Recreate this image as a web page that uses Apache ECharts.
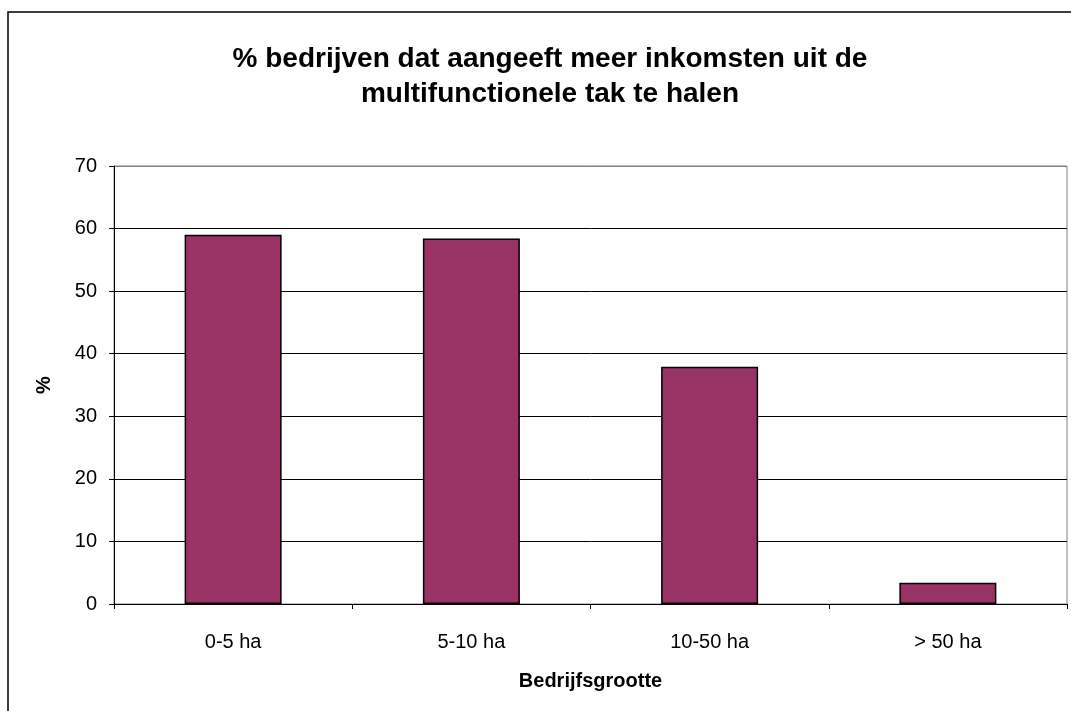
<!DOCTYPE html>
<html>
<head>
<meta charset="utf-8">
<script src="https://cdn.jsdelivr.net/npm/echarts@6/dist/echarts.min.js"></script>
<style>
  html, body { margin: 0; padding: 0; background: #fff; }
  #chart { width: 1071px; height: 711px; }
</style>
</head>
<body>
<div id="chart"></div>
<script>
var categories = ['0-5 ha', '5-10 ha', '10-50 ha', '> 50 ha'];
var percentages = [59, 58.4, 37.9, 3.4];
var yTicks = [0, 10, 20, 30, 40, 50, 60, 70];

var myChart = echarts.init(document.getElementById('chart'));

var font = '"Liberation Sans", Arial, sans-serif';

var option = {
    backgroundColor: '#fff',
    animation: false,
    title: {
        text: '% bedrijven dat aangeeft meer inkomsten uit de\nmultifunctionele tak te halen',
        left: 545,
        top: 37,
        textAlign: 'center',
        textStyle: {
            fontFamily: font,
            fontSize: 28,
            fontWeight: 'bold',
            color: '#000',
            lineHeight: 35
        }
    },
    graphic: [{
        type: 'rect',
        shape: { x: 8, y: 12, width: 1200, height: 900 },
        style: { fill: 'none', stroke: '#000', lineWidth: 1.5 },
        silent: true
    }],
    grid: {
        left: 114,
        top: 166,
        right: 4,
        bottom: 107,
        show: true,
        borderColor: '#808080',
        borderWidth: 1
    },
    xAxis: {
        type: 'category',
        data: categories,
        name: 'Bedrijfsgrootte',
        nameLocation: 'middle',
        nameGap: 67,
        nameTextStyle: { fontFamily: font, fontSize: 20, fontWeight: 'bold', color: '#000' },
        axisLine: { lineStyle: { color: '#000', width: 1 } },
        axisTick: { show: true, length: 5, lineStyle: { color: '#000' } },
        axisLabel: { fontFamily: font, fontSize: 20, color: '#000', margin: 28 }
    },
    yAxis: {
        type: 'value',
        min: yTicks[0],
        max: yTicks[yTicks.length - 1],
        interval: 10,
        name: '%',
        nameLocation: 'middle',
        nameRotate: 90,
        nameGap: 60,
        nameTextStyle: { fontFamily: font, fontSize: 20, fontWeight: 'bold', color: '#000' },
        axisLine: { show: true, lineStyle: { color: '#000', width: 1 } },
        axisTick: { show: true, length: 5, lineStyle: { color: '#000' } },
        axisLabel: { fontFamily: font, fontSize: 20, color: '#000', margin: 17 },
        splitLine: {
            lineStyle: {
                color: ['#000', '#000', '#000', '#000', '#000', '#000', '#000', '#808080'],
                width: 1
            }
        }
    },
    series: [{
        type: 'bar',
        data: percentages,
        barWidth: 97,
        itemStyle: { color: '#993366', borderColor: '#000', borderWidth: 1.5 }
    }]
};

myChart.setOption(option);
</script>
</body>
</html>
